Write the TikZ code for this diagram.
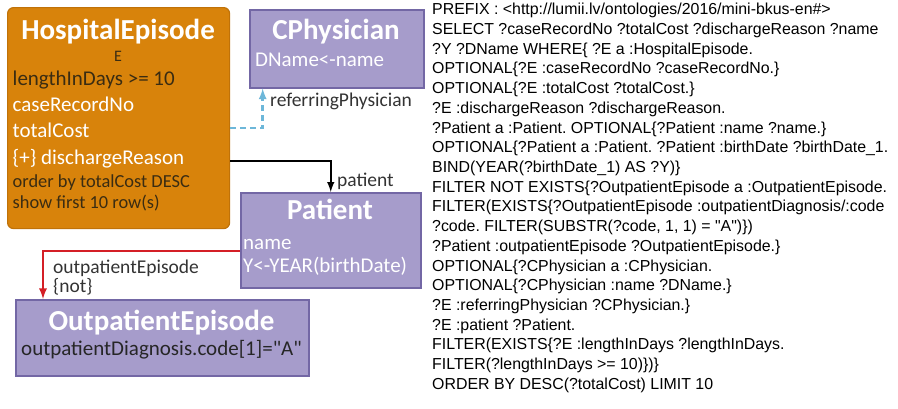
\documentclass[tikz,border=0pt]{standalone}
\usepackage{fontspec}
\setmainfont{Carlito}[Ligatures=TeXOff]
\newfontfamily\sparqlfont{Liberation Sans}[Ligatures=TeXOff]
\frenchspacing

\definecolor{heorange}{HTML}{D8830B}
\definecolor{heedge}{HTML}{C07208}
\definecolor{clsfill}{HTML}{A69CCB}
\definecolor{clsedge}{HTML}{7367A5}
\definecolor{darktext}{HTML}{3A2C12}
\definecolor{linkblue}{HTML}{6DB7D9}
\definecolor{linkred}{HTML}{D41F26}

\tikzset{
    hebox/.style={draw=heedge, fill=heorange, rounded corners=6pt, line width=1.2pt,
        anchor=north west, inner sep=0pt},
    clsbox/.style={draw=clsedge, fill=clsfill, line width=1.5pt,
        anchor=north west, inner sep=0pt},
    clstitle/.style={inner sep=0pt, anchor=base, text=white,
        font=\fontsize{29}{32}\selectfont\bfseries},
    attr/.style={inner sep=0pt, anchor=base west, font=\fontsize{21}{24}\selectfont},
    smallattr/.style={inner sep=0pt, anchor=base west, text=darktext,
        font=\fontsize{18.4}{20}\selectfont},
    linklbl/.style={inner sep=0pt, anchor=base west, text=black!80,
        font=\fontsize{19.5}{22}\selectfont},
    sparql/.style={inner sep=0pt, anchor=base west,
        font=\sparqlfont\fontsize{15.9}{20}\selectfont}
}

\begin{document}
\begin{tikzpicture}[x=1pt,y=-1pt,>=latex]
    \useasboundingbox (0,0) rectangle (898,408);

    % class boxes
    \node[hebox, minimum width=222pt, minimum height=221pt] (he) at (7,7) {};
    \node[clsbox, minimum width=174pt, minimum height=78pt] (cp) at (249,9) {};
    \node[clsbox, minimum width=180pt, minimum height=95pt] (pt) at (240,192) {};
    \node[clsbox, minimum width=293pt, minimum height=76pt] (op) at (15,299) {};

    % HospitalEpisode
    \node[clstitle] (heTitle) at (118,39.3) {HospitalEpisode};
    \node[inner sep=0pt, anchor=base, text=darktext, font=\fontsize{16}{17}\selectfont] (heVar) at (118,61) {E};
    \node[attr, text=darktext] (heLen) at (12.5,85) {lengthInDays >= 10};
    \node[attr, text=white] (heCase) at (12.5,111) {caseRecordNo};
    \node[attr, text=white] (heCost) at (12.5,137) {totalCost};
    \node[attr, text=white] (heReason) at (12.5,164) {\{+\} dischargeReason};
    \node[smallattr] (heOrder) at (12.5,187) {order by totalCost DESC};
    \node[smallattr] (heLimit) at (12.5,208) {show first 10 row(s)};

    % CPhysician
    \node[clstitle] (cpTitle) at (336,39) {CPhysician};
    \node[attr, text=white] (cpName) at (255,66) {DName<-name};

    % Patient
    \node[clstitle] (ptTitle) at (330,219) {Patient};
    \node[attr, text=white] (ptName) at (243,249) {name};
    \node[attr, text=white] (ptYear) at (243,272) {Y<-YEAR(birthDate)};

    % OutpatientEpisode
    \node[clstitle] (opTitle) at (161.5,330) {OutpatientEpisode};
    \node[attr, anchor=base, text=black!85] (opCond) at (161.5,355) {outpatientDiagnosis.code[1]="A"};

    % links
    \draw[->, linkblue, line width=2.6pt, dash pattern=on 6pt off 4pt]
        (he.east |- 0,128) -| ([xshift=13.7pt]cp.south west);
    \draw[->, black, line width=2.4pt]
        (he.east |- 0,161) -| (pt.north);
    \draw[->, linkred, line width=2.6pt]
        (pt.west |- 0,251) -| ([xshift=28pt]op.north west);

    \node[linklbl] (lblRef) at (270,106) {referringPhysician};
    \node[linklbl] (lblPat) at (337,186) {patient};
    \node[linklbl] (lblOut) at (53,273) {outpatientEpisode};
    \node[linklbl] (lblNot) at (53,292) {\{not\}};

    % query text
    \foreach \ln [count=\i] in {
        {PREFIX : <http://lumii.lv/ontologies/2016/mini-bkus-en\#>},
        {SELECT ?caseRecordNo ?totalCost ?dischargeReason ?name},
        {?Y ?DName WHERE\{ ?E a :HospitalEpisode.},
        {OPTIONAL\{?E :caseRecordNo ?caseRecordNo.\}},
        {OPTIONAL\{?E :totalCost ?totalCost.\}},
        {?E :dischargeReason ?dischargeReason.},
        {?Patient a :Patient. OPTIONAL\{?Patient :name ?name.\}},
        {OPTIONAL\{?Patient a :Patient. ?Patient :birthDate ?birthDate\_1.},
        {BIND(YEAR(?birthDate\_1) AS ?Y)\}},
        {FILTER NOT EXISTS\{?OutpatientEpisode a :OutpatientEpisode.},
        {FILTER(EXISTS\{?OutpatientEpisode :outpatientDiagnosis/:code},
        {?code. FILTER(SUBSTR(?code, 1, 1) = "A")\})},
        {?Patient :outpatientEpisode ?OutpatientEpisode.\}},
        {OPTIONAL\{?CPhysician a :CPhysician.},
        {OPTIONAL\{?CPhysician :name ?DName.\}},
        {?E :referringPhysician ?CPhysician.\}},
        {?E :patient ?Patient.},
        {FILTER(EXISTS\{?E :lengthInDays ?lengthInDays.},
        {FILTER(?lengthInDays >= 10)\})\}},
        {ORDER BY DESC(?totalCost) LIMIT 10}
    }{
        \node[sparql] (q\i) at (432,{14.7+19.72*(\i-1)}) {\ln};
    }
\end{tikzpicture}
\end{document}
